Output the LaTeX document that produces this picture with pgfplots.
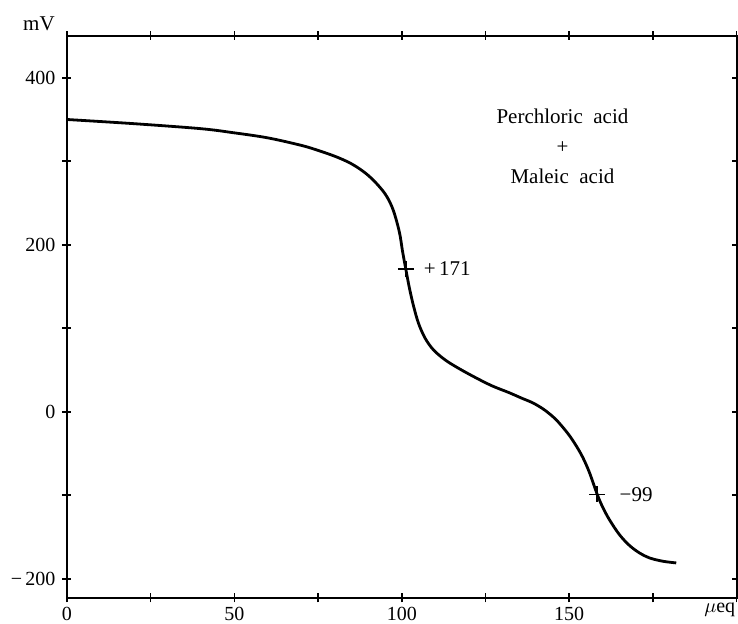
\documentclass[border=0pt]{standalone}
\usepackage{fontspec}
\setmainfont{Liberation Serif}
\usepackage{pgfplots}
\pgfplotsset{compat=1.18}
\usetikzlibrary{calc}
\begin{document}
\begin{tikzpicture}
\begin{axis}[
  scale only axis,
  width=334.75pt, height=281pt,
  xmin=0, xmax=200, ymin=-223, ymax=450,
  axis line style={line width=1pt},
  every tick/.style={black, line width=0.8pt},
  tick align=center,
  major tick length=4.5pt,
  xtick={0,25,...,200},
  xticklabels={0,,50,,100,,150,,},
  ytick={-200,-100,...,400},
  yticklabels={−\,200,,0,,200,,400},
  extra x ticks={195},
  extra x tick labels={$\mu$eq},
  extra x tick style={major tick length=0pt},
  tick label style={font=\fontsize{10}{10}\selectfont},
  xticklabel style={yshift=1.2pt},
  xtick pos=both, ytick pos=both,
  xticklabel pos=lower, yticklabel pos=left,
  clip=false,
]
\addplot[black, line width=1.4pt, smooth, tension=0.55] coordinates {
(0,350) (20,345) (40,339) (50,334) (60,328) (70,319) (75,313) (80,306)
(84,299) (87,292) (90,283) (93,271) (95.5,258) (97.5,241) (99.3,215) (100.2,193)
(101.2,171) (102.3,148) (103.5,127) (105,106) (107,88) (109.5,74)
(113,62) (117,52) (122,41) (127,31) (132,23) (136,16) (139,11) (142,4) (144,-2)
(146,-9) (148,-18) (150,-28) (152,-40) (154,-54) (156,-72) (158.4,-99) (160,-114)
(162,-129) (165,-147) (168,-160) (171,-169) (174,-175) (178,-179) (182,-181)
};
\addplot[black, only marks, mark=+, mark size=4pt, line width=0.8pt] coordinates {(101.2,171) (158.4,-99)};
\node[anchor=west, font=\fontsize{10.5}{10}\selectfont] at (axis cs:104.5,171) {+\,171};
\node[anchor=west, font=\fontsize{10.5}{10}\selectfont] at (axis cs:163,-99) {−99};
\node[align=center, font=\fontsize{10.5}{15}\selectfont] at (axis cs:148,318) {Perchloric\ \ acid\\+\\Maleic\ \ acid};
\node[font=\fontsize{10.5}{10}\selectfont] at ($(rel axis cs:0,1)+(-14pt,6pt)$) {mV};
\coordinate (bl) at (rel axis cs:0,0);
\coordinate (tr) at (rel axis cs:1,1);
\end{axis}
\pgfresetboundingbox
\path[use as bounding box] ($(bl)+(-33.5pt,-13pt)$) rectangle ($(tr)+(0.75pt,18pt)$);
\end{tikzpicture}
\end{document}
